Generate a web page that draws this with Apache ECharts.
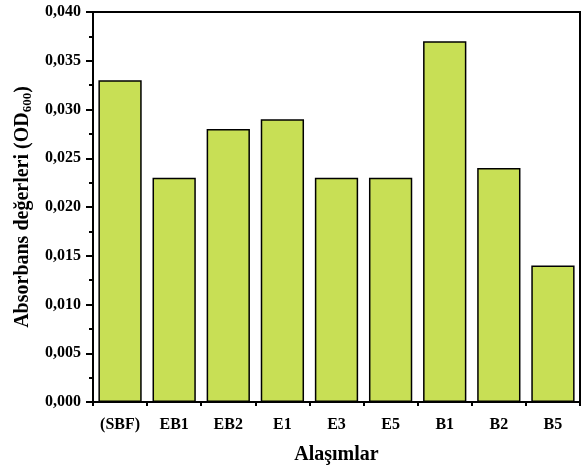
<!DOCTYPE html>
<html><head><meta charset="utf-8">
<script src="https://cdn.jsdelivr.net/npm/echarts@6/dist/echarts.min.js"></script>
<style>html,body{margin:0;padding:0;background:#fff}#c{width:584px;height:470px}</style>
</head><body><div id="c"></div>
<script>
const categories = ['(SBF)', 'EB1', 'EB2', 'E1', 'E3', 'E5', 'B1', 'B2', 'B5'];
const absorbans = [0.033, 0.023, 0.028, 0.029, 0.023, 0.023, 0.037, 0.024, 0.014];
const yTicks = [0, 0.005, 0.010, 0.015, 0.020, 0.025, 0.030, 0.035, 0.040];

const font = 'Liberation Serif';
const chart = echarts.init(document.getElementById('c'), null, {renderer: 'canvas'});
chart.setOption({
  animation: false,
  grid: {left: 93, right: 4, top: 12, bottom: 66, show: true, borderColor: '#000', borderWidth: 2, backgroundColor: 'transparent'},
  xAxis: [{
    type: 'category', data: categories, position: 'bottom',
    name: 'Alaşımlar', nameLocation: 'middle', nameGap: 43,
    nameTextStyle: {fontFamily: font, fontWeight: 'bold', fontSize: 20, color: '#000'},
    axisLine: {lineStyle: {color: '#000', width: 2}},
    axisTick: {alignWithLabel: true, length: 7, lineStyle: {color: '#000', width: 2}},
    axisLabel: {fontFamily: font, fontWeight: 'bold', fontSize: 16, color: '#000', margin: 15, interval: 0}
  }, {
    type: 'category', data: categories, position: 'bottom',
    axisLine: {show: false},
    axisTick: {show: true, length: 4, lineStyle: {color: '#000', width: 2}},
    axisLabel: {show: false}
  }],
  yAxis: {
    type: 'value', min: 0, max: 0.04, interval: 0.005,
    name: '{a|Absorbans değerleri (OD}{s|600}{a|)}', nameLocation: 'middle', nameGap: 55,
    nameTextStyle: {rich: {
      a: {fontFamily: font, fontWeight: 'bold', fontSize: 20, color: '#000'},
      s: {fontFamily: font, fontWeight: 'bold', fontSize: 13, color: '#000', verticalAlign: 'bottom', padding: [10, 0, 0, 0]}
    }},
    axisLine: {show: true, lineStyle: {color: '#000', width: 2}},
    axisTick: {show: true, length: 7, lineStyle: {color: '#000', width: 2}},
    minorTick: {show: true, splitNumber: 2, length: 4, lineStyle: {color: '#000', width: 2}},
    splitLine: {show: false},
    axisLabel: {fontFamily: font, fontWeight: 'bold', fontSize: 16, color: '#000', margin: 12,
      formatter: v => yTicks.some(t => Math.abs(t - v) < 1e-9) ? v.toFixed(3).replace('.', ',') : ''}
  },
  series: [{
    type: 'bar', data: absorbans, xAxisIndex: 0, barCategoryGap: '20%',
    itemStyle: {color: '#c8df55', borderColor: '#000', borderWidth: 1.5}
  }]
});
</script></body></html>
